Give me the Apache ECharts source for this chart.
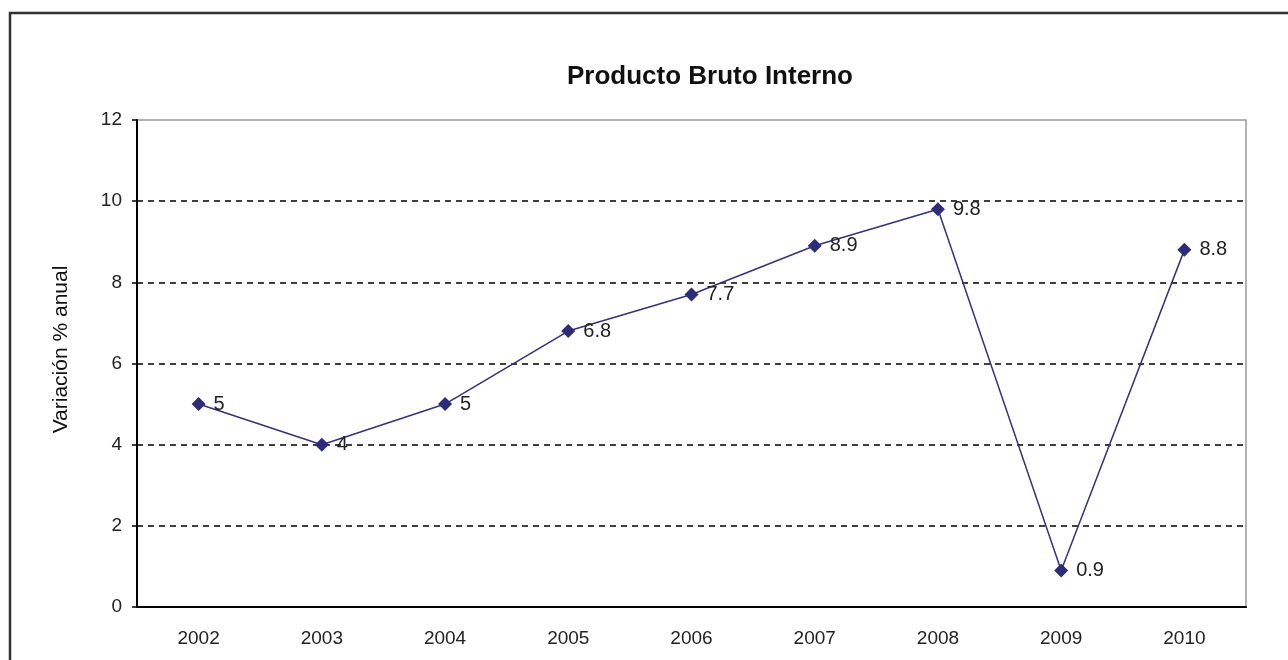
<!DOCTYPE html>
<html>
<head>
<meta charset="utf-8">
<script src="https://cdn.jsdelivr.net/npm/echarts@6/dist/echarts.min.js"></script>
<style>
  html, body { margin: 0; padding: 0; background: #fff; }
  #chart { width: 1288px; height: 660px; }
</style>
</head>
<body>
<div id="chart"></div>
<script>
var chart = echarts.init(document.getElementById('chart'));

// datos
var years = ['2002', '2003', '2004', '2005', '2006', '2007', '2008', '2009', '2010'];
var pbi = [5, 4, 5, 6.8, 7.7, 8.9, 9.8, 0.9, 8.8];

var font = 'Liberation Sans, Arial, sans-serif';

var option = {
    backgroundColor: '#fff',
    animation: false,
    title: {
        text: 'Producto Bruto Interno',
        left: 705,
        top: 59,
        textAlign: 'center',
        textStyle: { fontFamily: font, fontSize: 26, fontWeight: 'bold', color: '#111' }
    },
    graphic: [{
        type: 'rect',
        shape: { x: 10, y: 13, width: 1300, height: 700 },
        style: { fill: 'none', stroke: '#333', lineWidth: 2.5 },
        silent: true
    }],
    grid: {
        left: 137, right: 42, top: 120, bottom: 53,
        show: true, borderColor: '#999', borderWidth: 1.5
    },
    xAxis: {
        type: 'category',
        data: years,
        boundaryGap: true,
        axisLine: { lineStyle: { color: '#000', width: 2 } },
        axisTick: { length: 6, lineStyle: { color: '#000', width: 2 } },
        axisLabel: { margin: 22, fontFamily: font, fontSize: 19, color: '#222' }
    },
    yAxis: {
        type: 'value',
        min: 0, max: 12, interval: 2,
        name: 'Variación % anual',
        nameLocation: 'middle',
        nameRotate: 90,
        nameGap: 65,
        nameTextStyle: { fontFamily: font, fontSize: 21, color: '#111', padding: [0, 0, 0, 28] },
        axisLine: { show: true, lineStyle: { color: '#000', width: 2 } },
        axisTick: { show: true, length: 5, lineStyle: { color: '#000', width: 1.5 } },
        axisLabel: { margin: 15, fontFamily: font, fontSize: 19, color: '#222' },
        splitLine: {
            show: true,
            lineStyle: {
                color: ['#000', '#000', '#000', '#000', '#000', '#000', 'rgba(0,0,0,0)'],
                type: [6, 5], width: 1.5
            }
        }
    },
    series: [{
        type: 'line',
        data: pbi,
        symbol: 'diamond',
        symbolSize: 14,
        lineStyle: { color: '#33327f', width: 1.5 },
        itemStyle: { color: '#2d2c78' },
        label: {
            show: true,
            position: 'right',
            distance: 8,
            fontFamily: font,
            fontSize: 20,
            color: '#222'
        }
    }]
};

chart.setOption(option);
</script>
</body>
</html>
